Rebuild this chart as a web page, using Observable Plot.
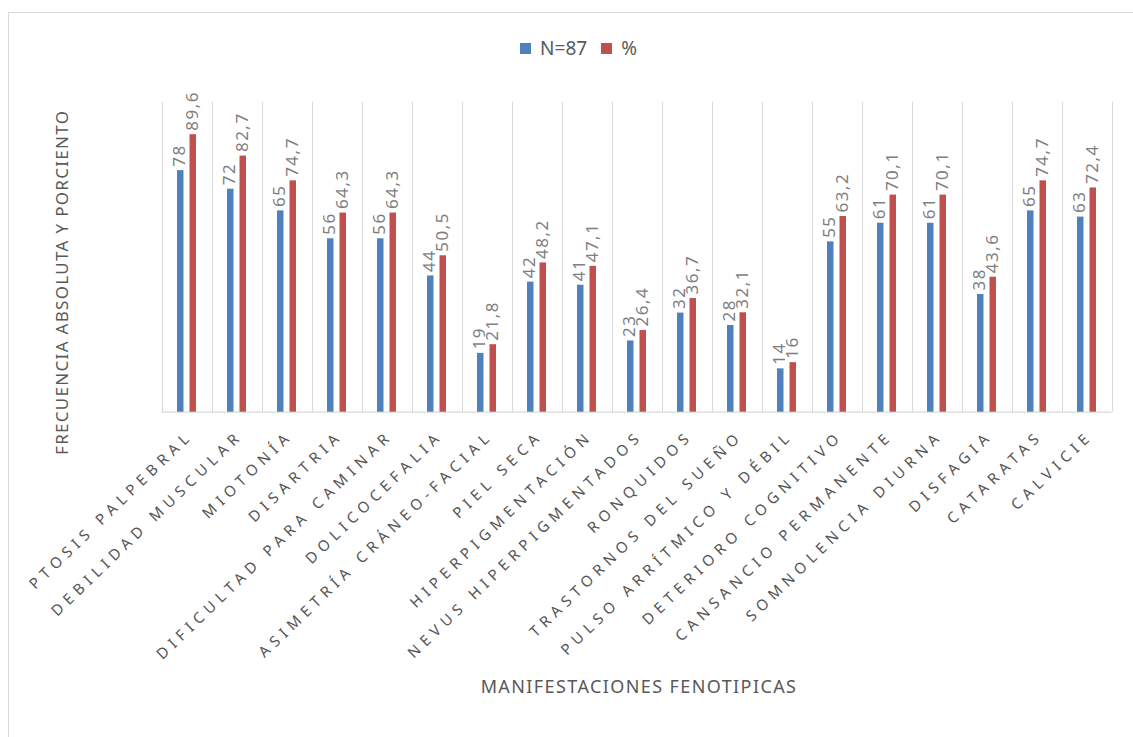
<!DOCTYPE html>
<html>
<head>
<meta charset="utf-8">
<script src="https://cdn.jsdelivr.net/npm/d3@7"></script>
<script src="https://cdn.jsdelivr.net/npm/@observablehq/plot@0.6"></script>
<style>
  html, body { margin: 0; padding: 0; background: #fff; }
  body { width: 1133px; height: 737px; position: relative; overflow: hidden; font-family: "Noto Sans", "Open Sans", sans-serif; }
  #frame { position: absolute; left: 8px; top: 12px; width: 1140px; height: 740px; border: 1px solid #d9d9d9; box-sizing: border-box; }
  #legend { position: absolute; top: 35px; left: 0; width: 1133px; display: flex; justify-content: center; align-items: center; font-size: 19px; color: #595959; padding-left: 24px; box-sizing: border-box; }
  #legend .item { display: flex; align-items: center; margin: 0 7px; }
  #legend .sw { width: 11px; height: 11px; margin-right: 9px; }
  #chart { position: absolute; left: 0; top: 80px; }
</style>
</head>
<body>
<div id="frame"></div>
<div id="legend"></div>
<div id="chart"></div>
<script>
const categories = [
  "PTOSIS PALPEBRAL", "DEBILIDAD MUSCULAR", "MIOTONÍA", "DISARTRIA",
  "DIFICULTAD PARA CAMINAR", "DOLICOCEFALIA", "ASIMETRÍA CRÁNEO-FACIAL",
  "PIEL SECA", "HIPERPIGMENTACIÓN", "NEVUS HIPERPIGMENTADOS", "RONQUIDOS",
  "TRASTORNOS DEL SUEÑO", "PULSO ARRÍTMICO Y DÉBIL", "DETERIORO COGNITIVO",
  "CANSANCIO PERMANENTE", "SOMNOLENCIA DIURNA", "DISFAGIA", "CATARATAS", "CALVICIE"
];
const nValues   = [78, 72, 65, 56, 56, 44, 19, 42, 41, 23, 32, 28, 14, 55, 61, 61, 38, 65, 63];
const pctValues = [89.6, 82.7, 74.7, 64.3, 64.3, 50.5, 21.8, 48.2, 47.1, 26.4, 36.7, 32.1, 16, 63.2, 70.1, 70.1, 43.6, 74.7, 72.4];
const seriesNames = ["N=87", "%"];
const seriesColors = ["#4f81bd", "#c0504d"];
const yTitle = "FRECUENCIA ABSOLUTA Y PORCIENTO";
const xTitle = "MANIFESTACIONES FENOTIPICAS";

const dataN = categories.map((c, i) => ({cat: c, v: nValues[i]}));
const dataP = categories.map((c, i) => ({cat: c, v: pctValues[i]}));
const fmt = v => String(v).replace(".", ",");

const W = 1133, H = 657, ml = 161.5, mr = 21.5, mt = 22, mb = 325.3;
const step = (W - ml - mr) / categories.length;
const gray = "#595959";

// legend
const leg = document.getElementById("legend");
seriesNames.forEach((s, i) => {
  const it = document.createElement("div");
  it.className = "item";
  it.innerHTML = `<span class="sw" style="background:${seriesColors[i]}"></span><span>${s}</span>`;
  leg.appendChild(it);
});

const chart = Plot.plot({
  width: W, height: H,
  marginLeft: ml, marginRight: mr, marginTop: mt, marginBottom: mb,
  x: {domain: categories, padding: 0, axis: null},
  y: {domain: [0, 100], axis: null},
  style: {fontFamily: "'Noto Sans', 'Open Sans', sans-serif", background: "transparent", overflow: "visible"},
  marks: [
    Plot.ruleX(categories, {x: d => d, dx: -step / 2, y1: 0, y2: 100, stroke: "#d9d9d9", strokeWidth: 1}),
    Plot.ruleX([categories[categories.length - 1]], {x: d => d, dx: step / 2, y1: 0, y2: 100, stroke: "#d9d9d9", strokeWidth: 1}),
    Plot.ruleY([0], {stroke: "#d9d9d9", strokeWidth: 1.2}),
    Plot.barY(dataN, {x: "cat", y: "v", fill: seriesColors[0], insetLeft: 15, insetRight: 28.5}),
    Plot.barY(dataP, {x: "cat", y: "v", fill: seriesColors[1], insetLeft: 27.5, insetRight: 16}),
    Plot.text(dataN, {x: "cat", y: "v", text: d => fmt(d.v), rotate: -90, textAnchor: "start", lineAnchor: "middle", dx: -8, dy: -4, fontSize: 17, fill: "#7f7f7f"}),
    Plot.text(dataP, {x: "cat", y: "v", text: d => fmt(d.v), rotate: -90, textAnchor: "start", lineAnchor: "middle", dx: 5, dy: -4, fontSize: 17, fill: "#7f7f7f"}),
    Plot.text(categories, {x: d => d, y: 0, text: d => d, rotate: -44, textAnchor: "end", lineAnchor: "top", dx: -1, dy: 17, fontSize: 15, fill: "#555555"}),
    Plot.text([yTitle], {frameAnchor: "left", text: d => d, rotate: -90, textAnchor: "middle", dx: -99, dy: 25, fontSize: 17, fill: gray}),
    Plot.text([xTitle], {frameAnchor: "bottom", text: d => d, textAnchor: "middle", dy: 281, dx: 2, fontSize: 18, fill: gray})
  ]
});
// letter spacing to mimic the spreadsheet rendering
const valueLabels = new Set([...nValues, ...pctValues].map(fmt));
d3.select(chart).selectAll("text").each(function () {
  const t = this.textContent;
  if (categories.includes(t)) this.setAttribute("letter-spacing", "5.4px");
  else if (valueLabels.has(t)) this.setAttribute("letter-spacing", "1.5px");
  else if (t === yTitle) this.setAttribute("letter-spacing", "1.3px");
  else if (t === xTitle) this.setAttribute("letter-spacing", "1.4px");
});
document.getElementById("chart").appendChild(chart);
</script>
</body>
</html>
